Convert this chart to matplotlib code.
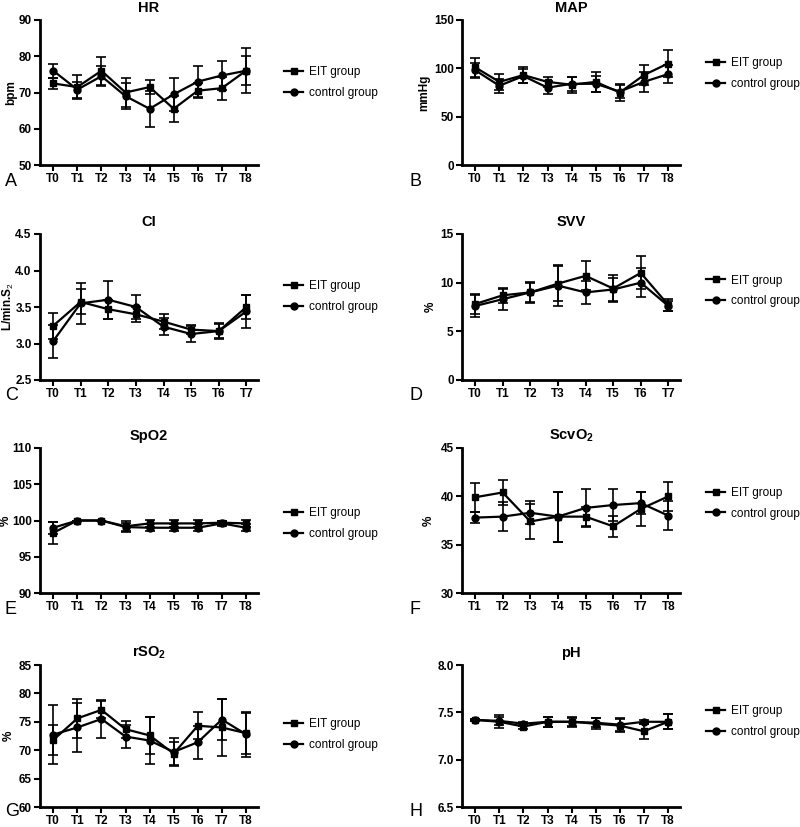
import matplotlib
matplotlib.use("Agg")
import matplotlib.pyplot as plt
from matplotlib.lines import Line2D
import numpy as np

plt.rcParams['font.family'] = ['Liberation Sans', 'DejaVu Sans']
plt.rcParams['mathtext.fontset'] = 'custom'
plt.rcParams['mathtext.rm'] = 'Liberation Sans'
plt.rcParams['mathtext.bf'] = 'Liberation Sans:bold'

t0_8 = ['T0', 'T1', 'T2', 'T3', 'T4', 'T5', 'T6', 'T7', 'T8']
t0_7 = ['T0', 'T1', 'T2', 'T3', 'T4', 'T5', 'T6', 'T7']
t1_8 = ['T1', 'T2', 'T3', 'T4', 'T5', 'T6', 'T7', 'T8']

# HR
hr_eit = [72.5, 71.5, 76, 70, 71.5, 65.5, 70.5, 71.2, 76]
hr_eit_sd = [1.5, 3.2, 3.8, 4, 2, 3.5, 2, 3.2, 6.2]
hr_ctl = [76, 70.8, 74.5, 69, 65.5, 69.5, 73, 74.7, 76]
hr_ctl_sd = [2, 2.2, 2.8, 3.5, 5, 4.5, 4.2, 4, 4]

# MAP
map_eit = [101, 86, 93, 86, 83, 86, 75, 93, 105]
map_eit_sd = [10, 8, 8, 5, 8, 10, 9, 10, 14]
map_ctl = [98, 82, 92, 80, 84, 84, 76, 86, 94]
map_ctl_sd = [8, 7, 7, 7, 7, 8, 7, 10, 9]

# CI
ci_eit = [3.24, 3.57, 3.47, 3.40, 3.30, 3.19, 3.17, 3.50]
ci_eit_sd = [0.18, 0.17, 0.13, 0.10, 0.10, 0.06, 0.10, 0.16]
ci_ctl = [3.03, 3.55, 3.60, 3.50, 3.23, 3.13, 3.17, 3.44]
ci_ctl_sd = [0.23, 0.28, 0.26, 0.17, 0.12, 0.11, 0.11, 0.23]

# SVV
svv_eit = [7.8, 8.7, 9.0, 9.9, 10.7, 9.4, 11.0, 7.7]
svv_eit_sd = [1.0, 0.8, 1.1, 1.8, 1.5, 1.4, 1.7, 0.6]
svv_ctl = [7.6, 8.3, 9.0, 9.7, 9.0, 9.3, 10.0, 7.6]
svv_ctl_sd = [1.1, 1.1, 1.0, 2.1, 1.2, 1.2, 1.5, 0.5]

# SpO2
spo2_eit = [98.3, 100, 100, 99.2, 99.6, 99.6, 99.6, 99.7, 99.6]
spo2_eit_sd = [1.5, 0, 0, 0.8, 0.5, 0.5, 0.5, 0.3, 0.5]
spo2_ctl = [99.0, 100, 100, 99.1, 99.0, 99.0, 99.0, 99.6, 99.0]
spo2_ctl_sd = [0.8, 0, 0, 0.6, 0.5, 0.5, 0.5, 0.3, 0.5]

# ScvO2
scv_eit = [39.9, 40.4, 37.4, 37.9, 37.9, 36.9, 38.7, 40.0]
scv_eit_sd = [1.5, 1.3, 1.8, 2.6, 1.0, 1.1, 1.8, 1.5]
scv_ctl = [37.8, 37.9, 38.3, 37.9, 38.8, 39.1, 39.3, 38.0]
scv_ctl_sd = [0.6, 1.5, 1.2, 2.6, 2.0, 1.7, 1.1, 1.5]

# rSO2
rso2_eit = [71.8, 75.6, 77.1, 73.7, 72.6, 69.4, 74.3, 74.0, 73.0]
rso2_eit_sd = [2.6, 3.4, 1.5, 1.5, 3.2, 2.0, 2.4, 5.0, 3.6]
rso2_ctl = [72.75, 74.0, 75.5, 72.4, 71.7, 69.7, 71.4, 75.4, 72.8]
rso2_ctl_sd = [5.2, 4.3, 3.3, 2.0, 4.2, 2.5, 2.9, 3.6, 4.0]

# pH
ph_eit = [7.42, 7.40, 7.35, 7.40, 7.40, 7.38, 7.36, 7.30, 7.40]
ph_eit_sd = [0.01, 0.07, 0.03, 0.05, 0.05, 0.06, 0.07, 0.08, 0.08]
ph_ctl = [7.42, 7.41, 7.38, 7.40, 7.40, 7.39, 7.37, 7.40, 7.40]
ph_ctl_sd = [0.01, 0.04, 0.02, 0.05, 0.04, 0.05, 0.07, 0.02, 0.08]

panels = [
    # letter, title, ylabel, labels, eit, eit_sd, ctl, ctl_sd, ylim, yticks, legend y, fmt, ylabel x
    ('A', 'HR', 'bpm', t0_8, hr_eit, hr_eit_sd, hr_ctl, hr_ctl_sd, (50, 90), [50, 60, 70, 80, 90], 0.57, '%d', -0.105),
    ('B', 'MAP', 'mmHg', t0_8, map_eit, map_eit_sd, map_ctl, map_ctl_sd, (0, 150), [0, 50, 100, 150], 0.63, '%d', -0.147),
    ('C', 'CI', r'L/min.S$_2$', t0_7, ci_eit, ci_eit_sd, ci_ctl, ci_ctl_sd, (2.5, 4.5), [2.5, 3.0, 3.5, 4.0, 4.5], 0.57, '%.1f', -0.112),
    ('D', 'SVV', '%', t0_7, svv_eit, svv_eit_sd, svv_ctl, svv_ctl_sd, (0, 15), [0, 5, 10, 15], 0.61, '%d', -0.115),
    ('E', 'SpO2', '%', t0_8, spo2_eit, spo2_eit_sd, spo2_ctl, spo2_ctl_sd, (90, 110), [90, 95, 100, 105, 110], 0.48, '%d', -0.13),
    ('F', r'ScvO$_\mathbf{2}$', '%', t1_8, scv_eit, scv_eit_sd, scv_ctl, scv_ctl_sd, (30, 45), [30, 35, 40, 45], 0.62, '%d', -0.124),
    ('G', r'rSO$_\mathbf{2}$', '%', t0_8, rso2_eit, rso2_eit_sd, rso2_ctl, rso2_ctl_sd, (60, 85), [60, 65, 70, 75, 80, 85], 0.51, '%d', -0.115),
    ('H', 'pH', '', t0_8, ph_eit, ph_eit_sd, ph_ctl, ph_ctl_sd, (6.5, 8.0), [6.5, 7.0, 7.5, 8.0], 0.60, '%.1f', -0.14),
]

W, H = 800, 827
fig = plt.figure(figsize=(8, 8.27), dpi=100)

lefts = [40, 462]
letter_x = [5, 410]
tops = [20, 234, 448, 665]
bottoms = [165, 380, 593, 807]

handles = [
    Line2D([], [], color='black', marker='s', markersize=5, linewidth=1.6),
    Line2D([], [], color='black', marker='o', markersize=5, linewidth=1.6),
]

for i, p in enumerate(panels):
    letter, title, ylab, labels, eit, eit_sd, ctl, ctl_sd, ylim, yticks, leg_y, fmt, ylx = p
    row, col = i // 2, i % 2
    l = lefts[col]
    ax = fig.add_axes([l / W, 1 - bottoms[row] / H, 218 / W, (bottoms[row] - tops[row]) / H])
    x = np.arange(len(labels))
    ax.errorbar(x, eit, yerr=eit_sd, color='black', marker='s', markersize=5,
                linewidth=1.6, elinewidth=1.2, capsize=3.5, capthick=1.2)
    ax.errorbar(x, ctl, yerr=ctl_sd, color='black', marker='o', markersize=5,
                linewidth=1.6, elinewidth=1.2, capsize=3.5, capthick=1.2)
    n = len(labels)
    pad = 0.55 if n == 9 else 0.47
    ax.set_xlim(-pad, n - 1 + pad - 0.05)
    ax.set_ylim(*ylim)
    ax.set_yticks(yticks)
    ax.set_yticklabels([fmt % v for v in yticks])
    ax.set_xticks(x)
    ax.set_xticklabels(labels)
    for s in ['top', 'right']:
        ax.spines[s].set_visible(False)
    for s in ['left', 'bottom']:
        ax.spines[s].set_linewidth(2)
    ax.tick_params(axis='both', direction='out', length=4, width=1.5, labelsize=8.5, pad=2)
    for lab in ax.get_xticklabels() + ax.get_yticklabels():
        lab.set_fontweight('bold')
    ax.set_title(title, fontsize=10.5, fontweight='bold', pad=6)
    if ylab:
        ax.set_ylabel(ylab, fontsize=8.5, fontweight='bold')
        ax.yaxis.set_label_coords(ylx, 0.5)
    ax.legend(handles, ['EIT group', 'control group'], loc='center left',
              bbox_to_anchor=(1.11, leg_y), frameon=False, fontsize=8.5,
              handlelength=1.6, labelspacing=0.75, handletextpad=0.5,
              borderpad=0.2, borderaxespad=0.0)
    ly = min(bottoms[row] + 16, 811)
    fig.text(letter_x[col] / W, 1 - ly / H, letter, fontsize=13, va='center', ha='left')

fig.savefig('out.png', dpi=100)
